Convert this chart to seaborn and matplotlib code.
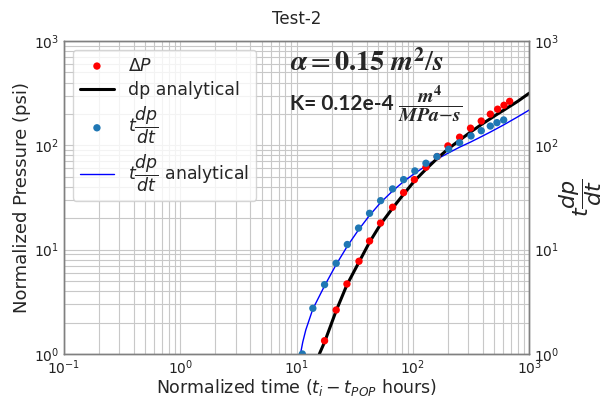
import numpy as np
import pandas as pd
import matplotlib
matplotlib.use("Agg")
import matplotlib.pyplot as plt
import seaborn as sns

# ---------------- data ----------------
dp_time = [17.4, 21.9, 27.1, 34.4, 42.4, 52.7, 66.9, 83.2, 103, 129.5,
           162, 200, 252, 313, 387, 463, 535, 607, 679]
dp_vals = [1.34, 2.64, 4.69, 7.74, 12.1, 18.0, 25.5, 35.2, 46.9, 61.7,
           78, 98.7, 119.6, 146, 171, 199, 222, 242, 264]

der_time = [11.2, 13.8, 17.4, 21.9, 27.3, 34.1, 42.4, 52.8, 66.9, 83.2,
            104, 129.5, 161, 203, 252, 316, 387, 463, 528, 603]
der_vals = [1.0, 2.74, 4.62, 7.4, 11.2, 16.1, 22.3, 29.5, 38.2, 46.9,
            56.8, 67.3, 78, 91.8, 106, 123, 138, 153, 165, 175]

dp_an_time = [15.7, 17.4, 21.9, 27.1, 34.4, 42.4, 52.7, 66.9, 83.2, 103,
              129.5, 162, 200, 252, 313, 387, 463, 535, 607, 679, 800, 1000]
dp_an_vals = [1.0, 1.3, 2.6, 4.6, 7.6, 11.8, 17.5, 25, 34, 45.5,
              59, 75, 92, 112, 134, 158, 180, 200, 218, 236, 265, 316]

der_an_time = [10.8, 11.3, 12, 13.8, 17.4, 21.9, 27.3, 34.1, 42.4, 52.8, 66.9,
               83.2, 104, 129.5, 162, 200, 252, 316, 387, 463, 603, 800, 1000]
der_an_vals = [1.0, 1.3, 1.7, 2.7, 4.5, 7.2, 10.8, 15.5, 21.3, 28.3, 36.5,
               45, 54, 63.5, 74, 84, 96, 108, 121, 134, 157, 188, 218]

y_ticks = [1, 10, 100, 1000]

df_dp = pd.DataFrame({"t": dp_time, "v": dp_vals})
df_der = pd.DataFrame({"t": der_time, "v": der_vals})
df_dp_an = pd.DataFrame({"t": dp_an_time, "v": dp_an_vals})
df_der_an = pd.DataFrame({"t": der_an_time, "v": der_an_vals})

# ---------------- style ----------------
sns.set_style("whitegrid")
plt.rcParams["font.family"] = ["DejaVu Sans"]
plt.rcParams["mathtext.fontset"] = "dejavusans"

fig = plt.figure(figsize=(6.09, 3.98), dpi=100)
ax = fig.add_axes([0.105, 0.1106, 0.764, 0.7864])

# right axis (same log scale) only for ticks/label
ax2 = ax.twinx()

sns.lineplot(data=df_der_an, x="t", y="v", ax=ax, color="blue", lw=1,
             label=r"$t\dfrac{dp}{dt}$ analytical", zorder=4)
sns.lineplot(data=df_dp_an, x="t", y="v", ax=ax, color="black", lw=2.2,
             label="dp analytical", zorder=4)
sns.scatterplot(data=df_dp, x="t", y="v", ax=ax, color="red", s=28,
                edgecolor="none", label=r"$\Delta P$", zorder=5)
sns.scatterplot(data=df_der, x="t", y="v", ax=ax, color="#1f77b4", s=28,
                edgecolor="none", label=r"$t\dfrac{dp}{dt}$", zorder=5)

for a in (ax, ax2):
    a.set_xscale("log")
    a.set_yscale("log")
    a.set_xlim(0.1, 1000)
    a.set_ylim(1, 1000)
    a.set_yticks(y_ticks)

ax.grid(True, which="major", color="#c8c8c8", lw=0.8)
ax.grid(True, which="minor", color="#c8c8c8", lw=0.8)
ax.set_axisbelow(True)
ax2.grid(False)
for a in (ax, ax2):
    for sp in a.spines.values():
        sp.set_color("#808080")
        sp.set_linewidth(1.0)
    a.tick_params(labelsize=10, colors="#222222", which="both", length=0)

ax.set_xlabel(r"Normalized time ($t_i - t_{POP}$ hours)", fontsize=12.5, labelpad=0)
ax.set_ylabel("Normalized Pressure (psi)", fontsize=13, labelpad=2)
ax2.set_ylabel(r"$t\dfrac{dp}{dt}$", fontsize=16, labelpad=-2)
ax.set_title("Test-2", fontsize=12, pad=12)

# merged legend in reference order
handles, labels = ax.get_legend_handles_labels()
order = [r"$\Delta P$", "dp analytical", r"$t\dfrac{dp}{dt}$",
         r"$t\dfrac{dp}{dt}$ analytical"]
hmap = dict(zip(labels, handles))
leg = ax.legend([hmap[k] for k in order], order, loc="upper left",
                fontsize=12.5, frameon=True, framealpha=0.8,
                borderaxespad=0.5, labelspacing=0.35, handlelength=2.0)
leg.set_zorder(10)

# annotations
ax.text(0.485, 0.93,
        r"$\boldsymbol{\alpha} = \mathbf{0.15}\ \boldsymbol{m}^{\mathbf{2}}/\boldsymbol{s}$",
        transform=ax.transAxes, fontsize=20.5, math_fontfamily="stix",
        ha="left", va="center")
ax.text(0.485, 0.80, "K= 0.12e-4", transform=ax.transAxes, fontsize=15,
        fontweight="bold", family="Lato", ha="left", va="center")
ax.text(0.787, 0.80,
        r"$\dfrac{\boldsymbol{m}^{\mathbf{4}}}{\boldsymbol{MPa}{-}\boldsymbol{s}}$",
        transform=ax.transAxes, fontsize=14.5, math_fontfamily="stix",
        ha="center", va="center")

fig.savefig("out.png", dpi=100)
